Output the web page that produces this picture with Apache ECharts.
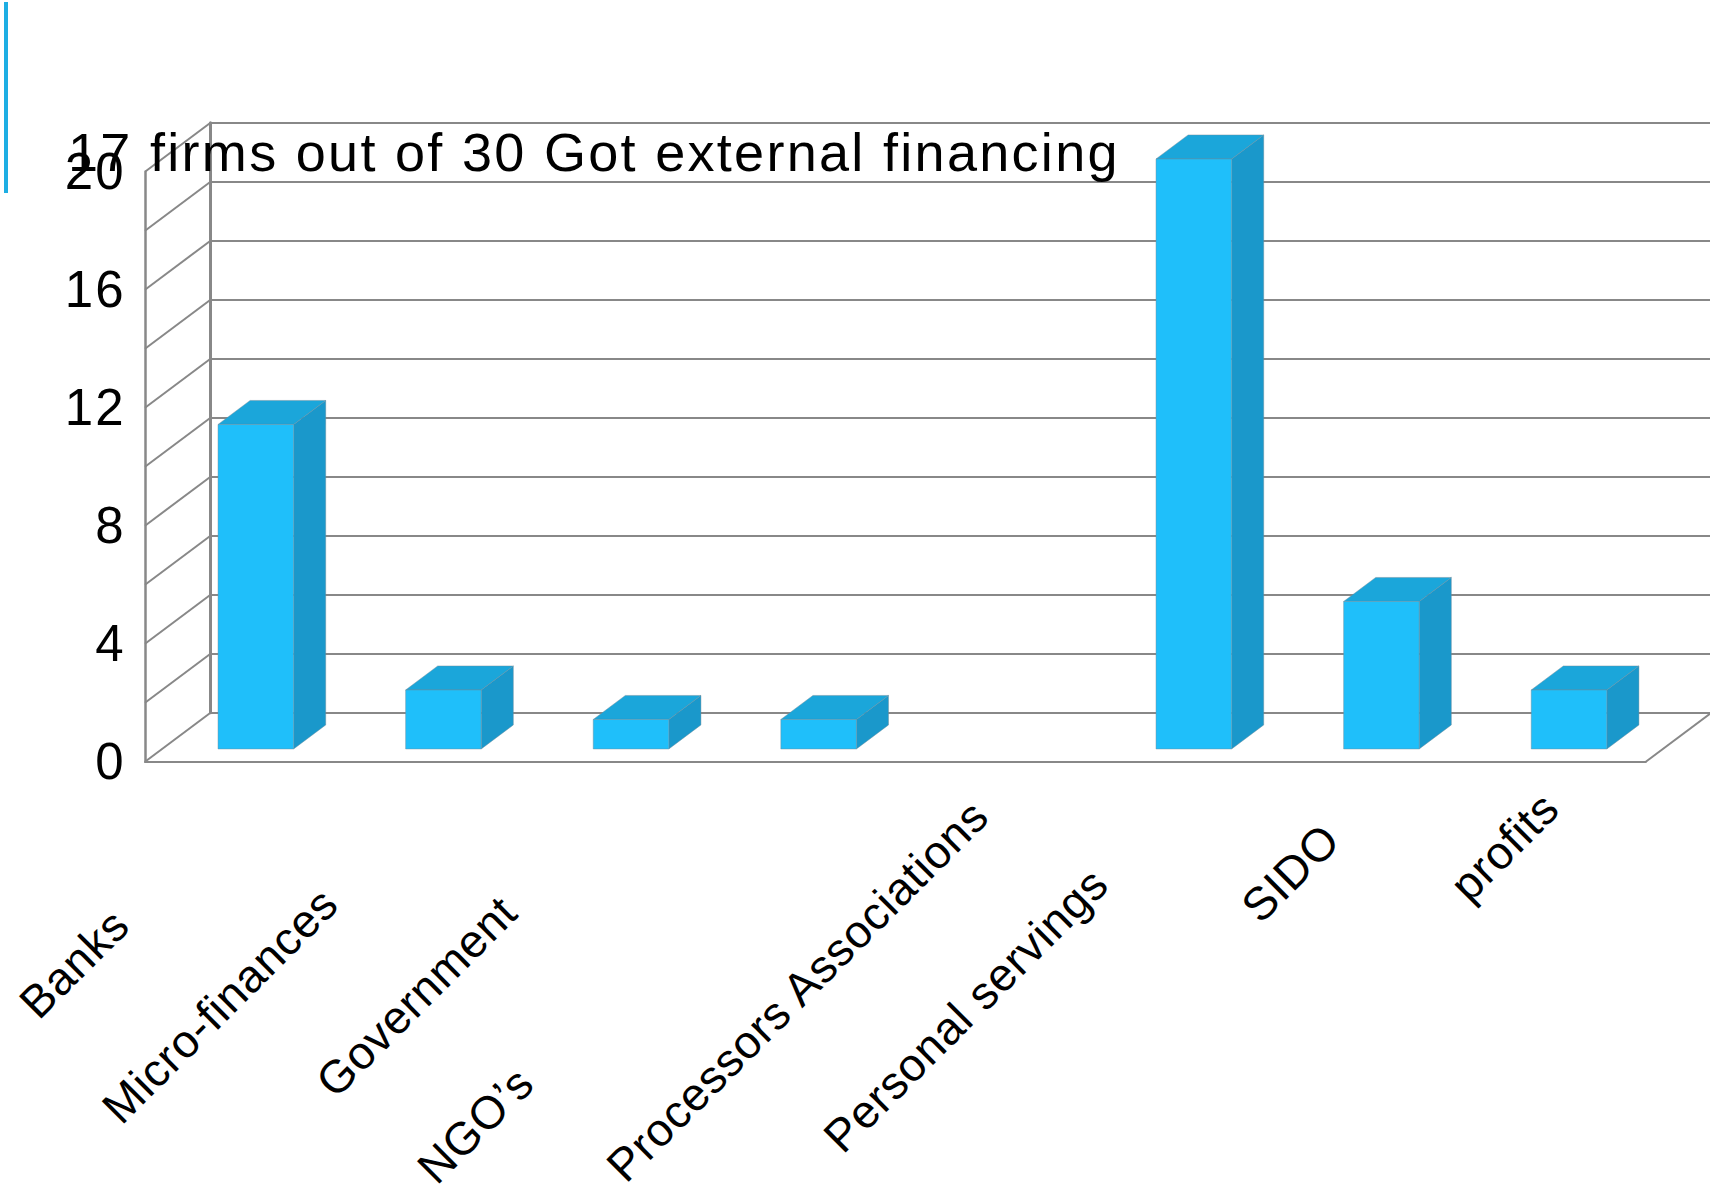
<!DOCTYPE html>
<html>
<head>
<meta charset="utf-8">
<script src="https://cdn.jsdelivr.net/npm/echarts@6/dist/echarts.min.js"></script>
<style>
html,body{margin:0;padding:0;background:#fff;}
#c{width:1710px;height:1196px;}
#c text{letter-spacing:2.3px;}
#c text[style*="46px"]{letter-spacing:0.8px;}
</style>
</head>
<body>
<div id="c"></div>
<script>
// ---- data ----
const titleText = '17 firms out of 30 Got external financing';
const categories = ['Banks', 'Micro-finances', 'Government', 'NGO\u2019s', 'Processors Associations', 'Personal servings', 'SIDO', 'profits'];
const values = [11, 2, 1, 1, 0, 20, 5, 2];
const valueTickLabels = [0, 4, 8, 12, 16, 20];
const gridLineValues = [0, 2, 4, 6, 8, 10, 12, 14, 16, 18, 20];

// ---- layout (not data) ----
const FRONT = {left: 145, top: 171.7, width: 1500.8, height: 590};
const BACK = {left: 210.5, top: 122.7, width: 1500.8, height: 590};
const DX = BACK.left - FRONT.left, DY = BACK.top - FRONT.top;
const labelNudge = [167, 137, 149, 391, 13, 109, 47, 2];
const GRAY = '#888888';
const FONT = '"Liberation Sans", Arial, sans-serif';

const chart = echarts.init(document.getElementById('c'), null, {renderer: 'svg'});

chart.setOption({
  animation: false,
  backgroundColor: '#ffffff',
  title: {
    text: titleText, left: 68, top: 125, padding: 0,
    textStyle: {fontSize: 54, fontWeight: 'normal', color: '#000', fontFamily: FONT}
  },
  graphic: [{type: 'rect', left: 4, top: 2, shape: {width: 4, height: 191}, style: {fill: '#1EAEE3'}, z: 100}],
  grid: [
    {left: FRONT.left, top: FRONT.top, width: FRONT.width, height: FRONT.height, containLabel: false, outerBoundsMode: 'none'},
    {left: BACK.left, top: BACK.top, width: BACK.width, height: BACK.height, containLabel: false, outerBoundsMode: 'none'}
  ],
  xAxis: [
    {
      type: 'category', gridIndex: 0,
      data: categories.map((c, i) => ({value: c, textStyle: {padding: [0, labelNudge[i], 0, 0]}})),
      axisLine: {show: true, lineStyle: {color: GRAY, width: 2}},
      axisTick: {show: false},
      splitLine: {show: false},
      axisLabel: {interval: 0, rotate: 45, margin: 37, fontSize: 46, color: '#000', fontFamily: FONT}
    },
    {
      type: 'category', gridIndex: 1, data: categories, show: false
    }
  ],
  yAxis: [
    {
      type: 'value', gridIndex: 0, min: 0, max: 20, interval: 4,
      axisLine: {show: true, lineStyle: {color: GRAY, width: 2.5}},
      axisTick: {show: false},
      splitLine: {show: false},
      axisLabel: {
        margin: 19, fontSize: 51, color: '#000', fontFamily: FONT,
        formatter: v => (valueTickLabels.indexOf(v) >= 0 ? String(v) : '')
      }
    },
    {
      type: 'value', gridIndex: 1, min: 0, max: 20, interval: 2,
      axisLine: {show: true, lineStyle: {color: GRAY, width: 3}},
      axisTick: {show: false},
      axisLabel: {show: false},
      splitLine: {show: true, lineStyle: {color: GRAY, width: 2}}
    }
  ],
  series: [
    {
      type: 'custom', xAxisIndex: 0, yAxisIndex: 0, silent: true, z: 1,
      data: gridLineValues.map(v => [0, v]),
      renderItem: function (params, api) {
        const cs = params.coordSys;
        const v = api.value(1);
        const y = api.coord([0, v])[1];
        const st = {stroke: GRAY, lineWidth: 2};
        const children = [{type: 'line', shape: {x1: cs.x, y1: y, x2: cs.x + DX, y2: y + DY}, style: st}];
        if (v === 0) {
          children.push({type: 'line', shape: {x1: cs.x + cs.width, y1: y, x2: cs.x + cs.width + DX, y2: y + DY}, style: st});
        }
        return {type: 'group', children: children};
      }
    },
    {
      type: 'custom', xAxisIndex: 0, yAxisIndex: 0, silent: true, z: 5,
      data: values.map((v, i) => [i, v]),
      renderItem: function (params, api) {
        const i = api.value(0), v = api.value(1);
        if (!v) return null;
        const p0 = api.coord([i, 0]);
        const p1 = api.coord([i, v]);
        const band = api.size([1, 0])[0];
        const w = band * 0.403;
        const f = 0.26, s = 0.49;
        const fx = p0[0] + DX * f - w / 2;
        const fy0 = p0[1] + DY * f;
        const fy1 = p1[1] + DY * f;
        const sdx = DX * s, sdy = DY * s;
        const edge = 'rgba(110,140,155,0.45)';
        return {
          type: 'group',
          children: [
            {type: 'polygon', shape: {points: [[fx + w, fy1], [fx + w + sdx, fy1 + sdy], [fx + w + sdx, fy0 + sdy], [fx + w, fy0]]},
              style: {fill: '#1A98CB', stroke: edge, lineWidth: 1}},
            {type: 'polygon', shape: {points: [[fx, fy1], [fx + sdx, fy1 + sdy], [fx + w + sdx, fy1 + sdy], [fx + w, fy1]]},
              style: {fill: '#1BA6DA', stroke: edge, lineWidth: 1}},
            {type: 'rect', shape: {x: fx, y: fy1, width: w, height: fy0 - fy1},
              style: {fill: '#1FBFFA', stroke: edge, lineWidth: 1}}
          ]
        };
      }
    }
  ]
});
</script>
</body>
</html>
